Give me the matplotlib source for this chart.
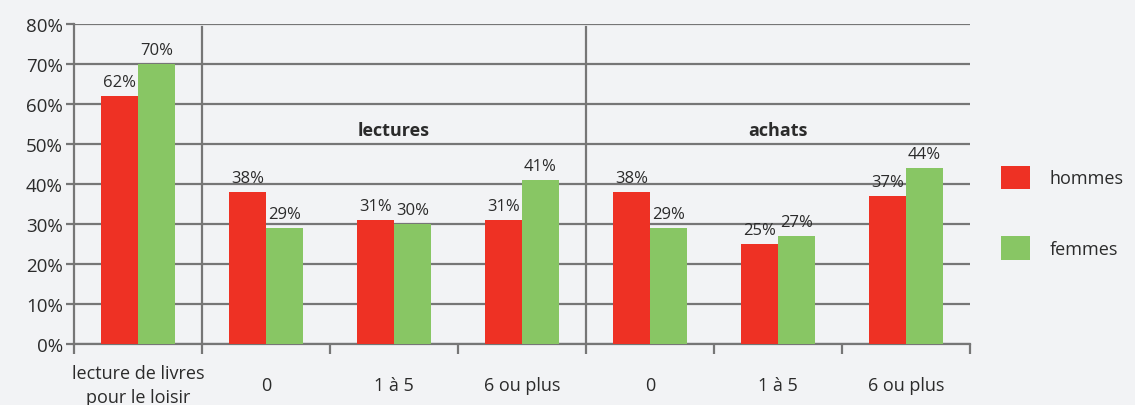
import matplotlib.pyplot as plt
import numpy as np

categories = ["lecture de livres\npour le loisir", "0", "1 à 5", "6 ou plus", "0", "1 à 5", "6 ou plus"]
hommes = [62, 38, 31, 31, 38, 25, 37]
femmes = [70, 29, 30, 41, 29, 27, 44]
groups = [("lectures", 2.0), ("achats", 5.0)]
separators = [0.5, 3.5]

RED = "#ee3124"
GREEN = "#88c664"
GRID = "#767676"
TEXT = "#2b2b2b"
BG = "#f2f3f5"

plt.rcParams["font.family"] = ["Open Sans", "DejaVu Sans"]

fig = plt.figure(figsize=(11.35, 4.06), dpi=100, facecolor=BG)
ax = fig.add_axes([0.0652, 0.150, 0.7894, 0.7882], facecolor=BG)

x = np.arange(len(categories))
w = 0.29
ax.bar(x - w / 2, hommes, w, color=RED, label="hommes", zorder=3)
ax.bar(x + w / 2, femmes, w, color=GREEN, label="femmes", zorder=3)

for xi, h, f in zip(x, hommes, femmes):
    ax.text(xi - w / 2, h + 1.5, f"{h}%", ha="center", va="bottom", fontsize=12, color=TEXT, zorder=4)
    ax.text(xi + w / 2, f + 1.5, f"{f}%", ha="center", va="bottom", fontsize=12, color=TEXT, zorder=4)

ax.set_xlim(-0.5, len(categories) - 0.5)
ax.set_ylim(0, 80)
ax.set_yticks(range(0, 81, 10))
ax.set_yticklabels([f"{v}%" for v in range(0, 81, 10)], fontsize=13.5, color=TEXT)
ax.yaxis.grid(True, color=GRID, linewidth=1.6, zorder=1)

for s in separators:
    ax.axvline(s, ymin=0, ymax=0.99, color=GRID, linewidth=1.6, zorder=2)

for name, gx in groups:
    ax.text(gx, 53.5, name, ha="center", va="center", fontsize=13, fontweight="bold", color=TEXT)

ax.set_xticks(np.arange(-0.5, len(categories), 1.0))
ax.set_xticklabels([])
ax.tick_params(axis="x", which="major", length=7, width=1.6, color=GRID, direction="out")
ax.tick_params(axis="y", length=6, width=1.6, color=GRID, pad=2)

# category labels, vertically centred like the original
trans = ax.get_xaxis_transform()
for xi, lab in zip(x, categories):
    ax.text(xi, -0.128, lab, transform=trans, ha="center", va="center",
            fontsize=13, color=TEXT, linespacing=1.45, clip_on=False)

for side in ["top", "right"]:
    ax.spines[side].set_visible(False)
for side in ["left", "bottom"]:
    ax.spines[side].set_color(GRID)
    ax.spines[side].set_linewidth(1.6)

leg = fig.legend(loc="center left", bbox_to_anchor=(0.882, 0.473), frameon=False,
                 fontsize=13, handlelength=1.6, handleheight=1.65, labelspacing=2.6,
                 handletextpad=1.1, borderpad=0, borderaxespad=0, labelcolor=TEXT)

fig.savefig("out.png", dpi=100, facecolor=BG)
